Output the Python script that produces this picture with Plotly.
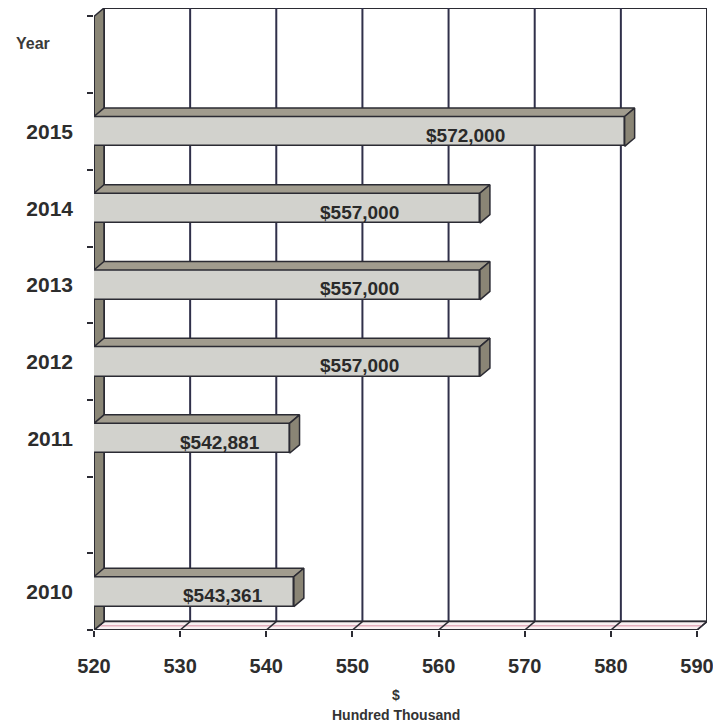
import plotly.graph_objects as go

# ---- data ----
years = ['2010', '2011', '2012', '2013', '2014', '2015']
values = [543.2, 542.7, 564.8, 564.8, 564.8, 581.6]          # drawn bar lengths (hundred thousand $)
value_labels = ['$543,361', '$542,881', '$557,000', '$557,000', '$557,000', '$572,000']
slot_order = ['2010', '', '2011', '2012', '2013', '2014', '2015', 'Year']
x_ticks = [520, 530, 540, 550, 560, 570, 580, 590]

# ---- geometry / style ----
X0, X1 = x_ticks[0], x_ticks[-1]
NS = len(slot_order)
DX, DY = 1.16, 0.11          # 3-D depth offsets in axis units
BAR_H = 0.39
EDGE = '#2b2b33'
FONT = 'Liberation Sans, Arial, sans-serif'

pos = {c: i + 0.5 for i, c in enumerate(slot_order)}
ypos = [pos[y] for y in years]

shapes = []
def path(pts, fill, lw=2, color=EDGE):
    d = 'M ' + ' L '.join(f'{x},{y}' for x, y in pts) + ' Z'
    shapes.append(dict(type='path', path=d, xref='x', yref='y', fillcolor=fill,
                       line=dict(color=color, width=lw), layer='below'))
def line(x0, y0, x1, y1, color=EDGE, lw=2):
    shapes.append(dict(type='line', x0=x0, y0=y0, x1=x1, y1=y1, xref='x', yref='y',
                       line=dict(color=color, width=lw), layer='below'))

# back wall
path([(X0 + DX, DY), (X1 + DX, DY), (X1 + DX, NS + DY), (X0 + DX, NS + DY)], 'white')
for t in x_ticks[1:-1]:
    line(t + DX, DY, t + DX, NS + DY, color='#30304a', lw=2)
# floor
path([(X0, 0), (X1, 0), (X1 + DX, DY), (X0 + DX, DY)], '#f8f0f2', lw=1.5)
line(X0 + DX / 2, DY / 2, X1 + DX / 2, DY / 2, color='#e3aebd', lw=1.5)
for t in x_ticks:
    line(t, 0, t + DX, DY, lw=1.5)
# left wall
path([(X0, 0), (X0 + DX, DY), (X0 + DX, NS + DY), (X0, NS)], '#8a8676', lw=1.5)
# front axes
line(X0, 0, X1, 0, lw=2)
line(X0, 0, X0, NS, lw=2)

fig = go.Figure()
fig.add_trace(go.Bar(
    y=ypos, x=[v - X0 for v in values], base=X0, orientation='h', width=BAR_H,
    marker=dict(color='#d2d2cd', line=dict(color=EDGE, width=1.5)),
    hoverinfo='skip', showlegend=False))

top_x, top_y, end_x, end_y = [], [], [], []
for y, v in zip(ypos, values):
    yt, yb = y + BAR_H / 2, y - BAR_H / 2
    top_x += [X0, v, v + DX, X0 + DX, X0, None]
    top_y += [yt, yt, yt + DY, yt + DY, yt, None]
    end_x += [v, v + DX, v + DX, v, v, None]
    end_y += [yb, yb + DY, yt + DY, yt, yb, None]
fig.add_trace(go.Scatter(x=top_x, y=top_y, mode='lines', fill='toself',
                         fillcolor='#a19c8e', line=dict(color=EDGE, width=1.5),
                         hoverinfo='skip', showlegend=False))
fig.add_trace(go.Scatter(x=end_x, y=end_y, mode='lines', fill='toself',
                         fillcolor='#8a8575', line=dict(color=EDGE, width=1.5),
                         hoverinfo='skip', showlegend=False))

annotations = []
for y, v, lab in zip(ypos, values, value_labels):
    annotations.append(dict(x=X0 - 2.1 + 0.735 * (v - X0), y=y, xref='x', yref='y', text=lab,
                            showarrow=False, yshift=-4,
                            font=dict(family=FONT, size=19, color='#2a2a2a', weight='bold')))
annotations.append(dict(x=X0, y=pos['Year'] + 0.15, xref='x', yref='y', text='Year',
                        showarrow=False, xanchor='right', xshift=-42,
                        font=dict(family=FONT, size=16, color='#3a3a3a', weight='bold')))
annotations.append(dict(x=(X0 + X1) / 2, y=0, xref='x', yref='paper', text='$',
                        showarrow=False, yanchor='middle', yshift=-65,
                        font=dict(family=FONT, size=14, color='#333333', weight='bold')))
annotations.append(dict(x=(X0 + X1) / 2, y=0, xref='x', yref='paper', text='Hundred Thousand',
                        showarrow=False, yanchor='middle', yshift=-85,
                        font=dict(family=FONT, size=14, color='#333333', weight='bold')))

fig.update_layout(
    width=713, height=720,
    margin=dict(l=86, r=14, t=0, b=98),
    paper_bgcolor='white', plot_bgcolor='rgba(0,0,0,0)',
    shapes=shapes, annotations=annotations, showlegend=False, bargap=0,
    xaxis=dict(range=[X0, X1 + DX], tickmode='array', tickvals=x_ticks,
               ticks='outside', ticklen=6, tickwidth=1.5, tickcolor=EDGE,
               showgrid=False, zeroline=False, showline=False,
               ticklabelstandoff=12,
               tickfont=dict(family=FONT, size=20, color='#2d2d2d', weight='bold')),
    yaxis=dict(range=[0, NS + DY], tickmode='array', tickvals=ypos, ticktext=years,
               ticks='', showgrid=False, zeroline=False, showline=False,
               ticklabelstandoff=20,
               minor=dict(tickmode='array', tickvals=list(range(NS + 1)), ticks='outside',
                          ticklen=6, tickwidth=1.5, tickcolor=EDGE, showgrid=False),
               tickfont=dict(family=FONT, size=21, color='#2d2d2d', weight='bold')),
)

fig.write_html('out.html')
